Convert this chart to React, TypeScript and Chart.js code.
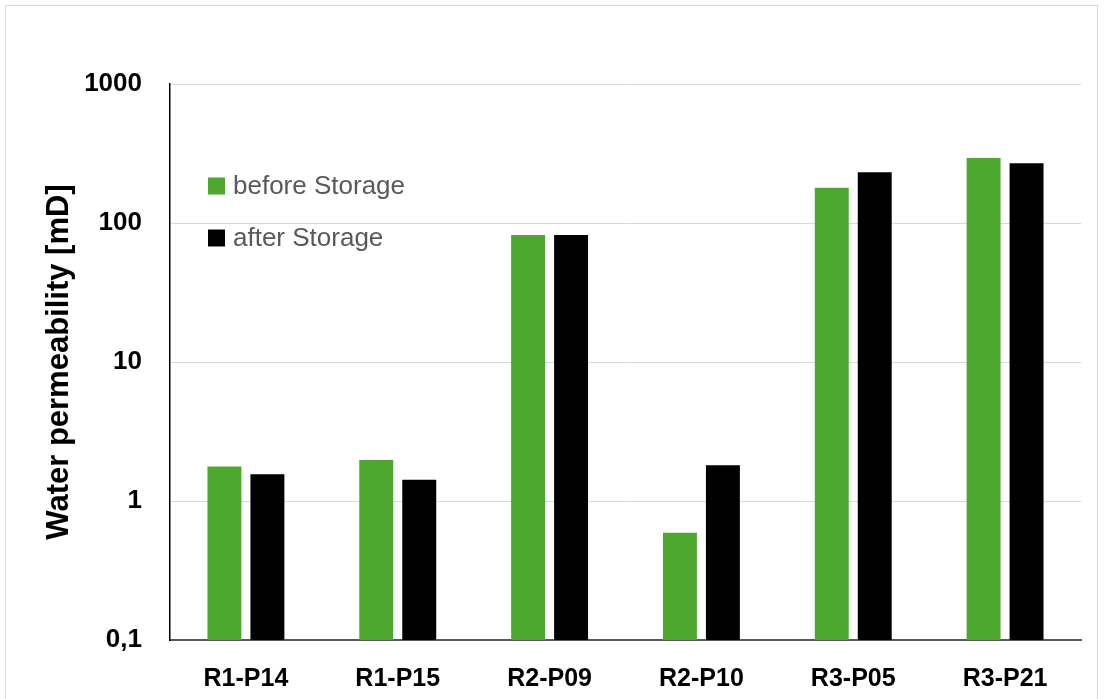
import React, { useEffect, useRef } from "react";
import { Chart, registerables } from "chart.js";

Chart.register(...registerables);

const categories = ["R1-P14", "R1-P15", "R2-P09", "R2-P10", "R3-P05", "R3-P21"];
const beforeStorage = [1.77, 1.97, 82, 0.59, 179, 294];
const afterStorage = [1.56, 1.42, 82, 1.81, 232, 269];
const yTicks = [0.1, 1, 10, 100, 1000];
const seriesLabels = ["before Storage", "after Storage"];
const seriesColors = ["#4EA72E", "#000000"];

const insideLegend = {
  id: "insideLegend",
  afterDraw(chart: any) {
    const ctx = chart.ctx;
    const x = 208;
    const ys = [186, 238];
    ctx.save();
    chart.data.datasets.forEach((ds: any, i: number) => {
      const y = ys[i];
      ctx.fillStyle = ds.backgroundColor;
      ctx.fillRect(x, y - 8.5, 17, 17);
      ctx.fillStyle = "#595959";
      ctx.font = "26px 'Liberation Sans', Arial, sans-serif";
      ctx.textBaseline = "middle";
      ctx.textAlign = "left";
      ctx.fillText(ds.label, x + 25, y + 1);
    });
    ctx.restore();
  },
};

export default function App() {
  const ref = useRef<HTMLCanvasElement | null>(null);

  useEffect(() => {
    if (!ref.current) return;
    const chart = new Chart(ref.current, {
      type: "bar",
      data: {
        labels: categories,
        datasets: [
          {
            label: seriesLabels[0],
            data: beforeStorage,
            backgroundColor: seriesColors[0],
            categoryPercentage: 0.566,
            barPercentage: 0.79,
          },
          {
            label: seriesLabels[1],
            data: afterStorage,
            backgroundColor: seriesColors[1],
            categoryPercentage: 0.566,
            barPercentage: 0.79,
          },
        ],
      },
      options: {
        responsive: false,
        animation: false,
        devicePixelRatio: 1,
        layout: { padding: { top: 84, right: 23, left: 0, bottom: 0 } },
        plugins: {
          legend: { display: false },
          tooltip: { enabled: false },
        },
        scales: {
          x: {
            grid: { display: false, drawTicks: false },
            border: { color: "#595959", width: 2 },
            ticks: {
              color: "#000000",
              padding: 24,
              font: { family: "'Liberation Sans', Arial, sans-serif", size: 25, weight: "bold" },
            },
            afterFit(scale: any) {
              scale.height = 59;
            },
          },
          y: {
            type: "logarithmic",
            min: 0.1,
            max: 1000,
            grid: { color: "#D9D9D9", lineWidth: 1, drawTicks: false },
            border: { color: "#000000", width: 1.5 },
            afterBuildTicks(scale: any) {
              scale.ticks = yTicks.map((v) => ({ value: v, major: true }));
            },
            ticks: {
              color: "#000000",
              padding: 28,
              font: { family: "'Liberation Sans', Arial, sans-serif", size: 26, weight: "bold" },
              callback: (v: any) => String(v).replace(".", ","),
            },
            title: {
              display: true,
              text: "Water permeability [mD]",
              color: "#000000",
              padding: { top: 41, bottom: 0 },
              font: { family: "'Liberation Sans', Arial, sans-serif", size: 31, weight: "bold" },
            },
            afterFit(scale: any) {
              scale.width = 170;
            },
          },
        },
      },
      plugins: [insideLegend],
    } as any);
    return () => chart.destroy();
  }, []);

  return (
    <div
      style={{
        position: "fixed",
        left: 0,
        top: 0,
        width: 1104,
        height: 699,
        overflow: "hidden",
        background: "#ffffff",
      }}
    >
      <canvas ref={ref} width={1104} height={699} style={{ display: "block" }} />
      <div
        style={{
          position: "absolute",
          left: 5,
          top: 5,
          width: 1091,
          height: 720,
          border: "1px solid #D9D9D9",
          pointerEvents: "none",
        }}
      />
    </div>
  );
}
